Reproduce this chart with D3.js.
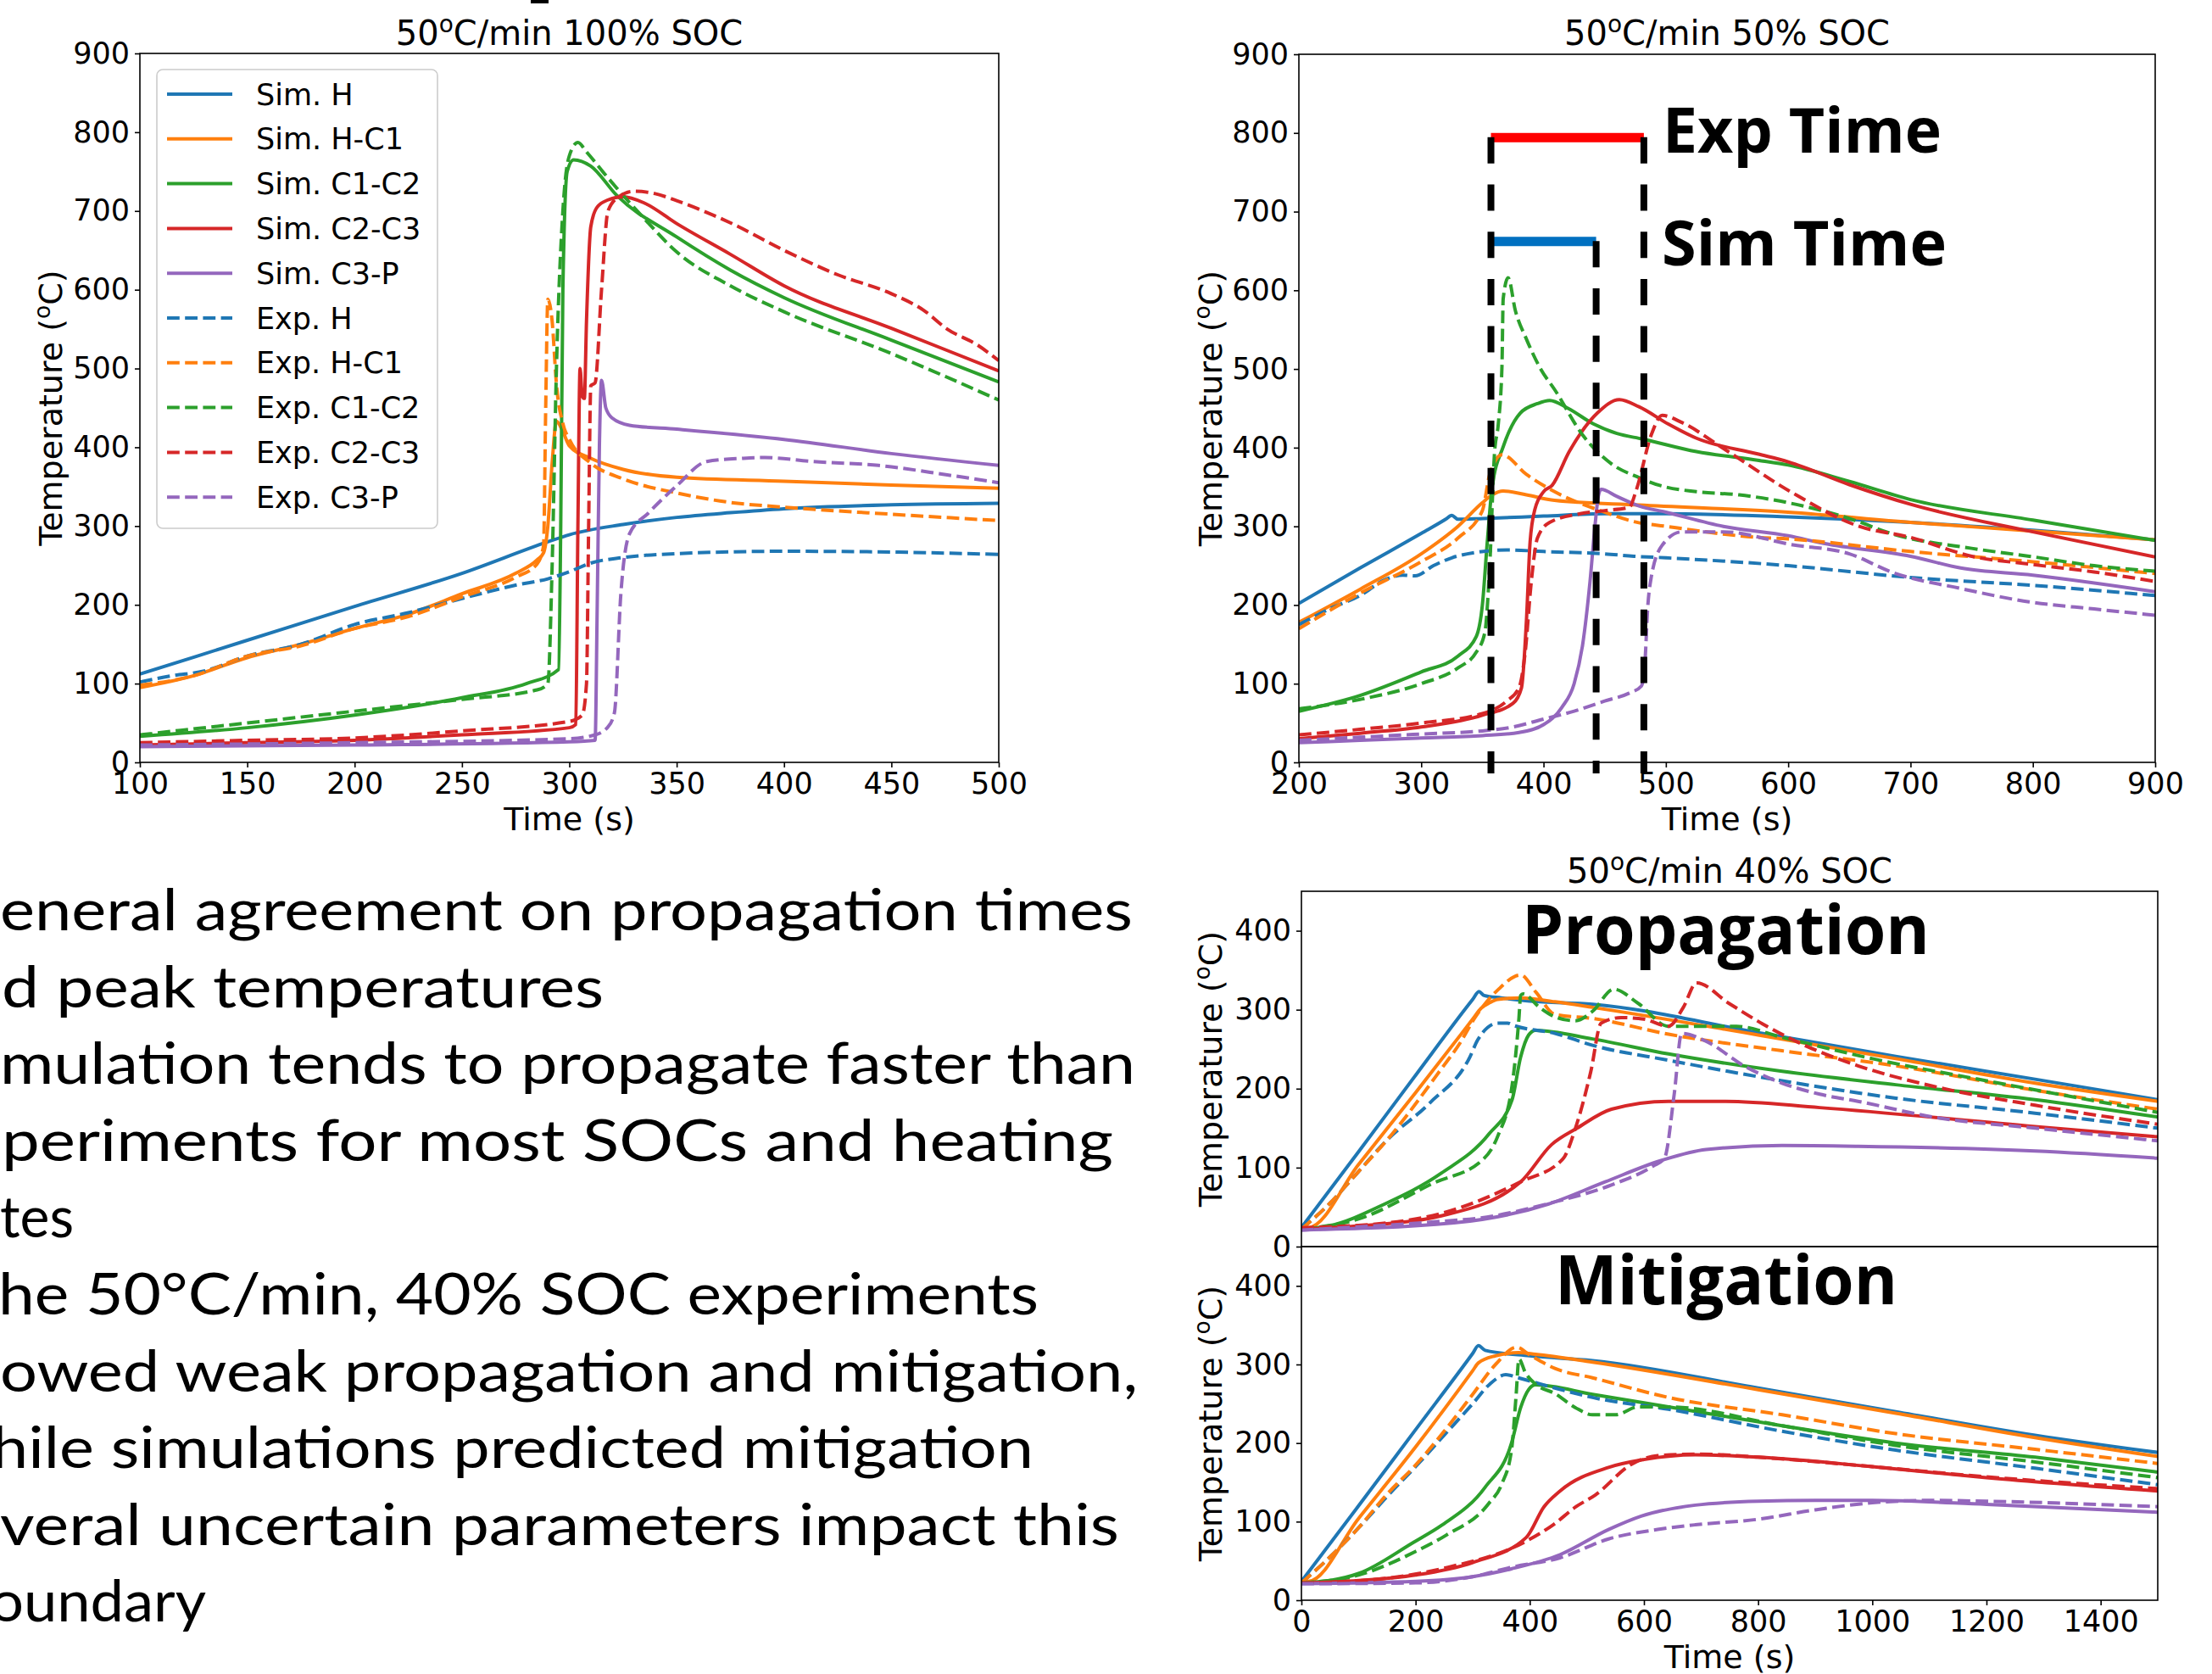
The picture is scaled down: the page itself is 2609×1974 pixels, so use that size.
<!DOCTYPE html>
<html>
<head>
<meta charset="utf-8">
<script src="https://cdn.jsdelivr.net/npm/d3@7"></script>
<style>
  body { margin: 0; background: #fff; }
  svg text { font-family: "DejaVu Sans", sans-serif; fill: #000; }
</style>
</head>
<body>
<svg id="fig" width="2609" height="1974"></svg>
<script>
// series meta
const seriesNames = ["Sim. H", "Sim. H-C1", "Sim. C1-C2", "Sim. C2-C3", "Sim. C3-P",
                     "Exp. H", "Exp. H-C1", "Exp. C1-C2", "Exp. C2-C3", "Exp. C3-P"];
const seriesColors = ["#1f77b4", "#ff7f0e", "#2ca02c", "#d62728", "#9467bd"];

// ---- 50C/min 100% SOC : [time s, temp C]
const a_simH    = [[100,112],[150,155],[200,198],[250,240],[290,280],[300,289],[325,302],[350,311],[375,317],[400,322],[450,327],[500,329]];
const a_simHC1  = [[100,95],[125,110],[150,133],[175,150],[200,170],[225,188],[250,214],[275,240],[285,257],[288,266],[290,300],[292,380],[294,433],[297,420],[300,402],[310,386],[325,372],[350,362],[400,357],[450,352],[500,348]];
const a_simC1C2 = [[100,33],[150,44],[200,60],[250,82],[280,100],[295,118],[296,300],[297,600],[299,750],[302,765],[310,757],[322,720],[350,667],[375,625],[400,590],[450,536],[500,483]];
const a_simC2C3 = [[100,22],[150,25],[200,28],[250,35],[300,44],[303,48],[304,300],[305,500],[306,465],[307,462],[308,560],[310,680],[313,705],[318,714],[325,718],[335,710],[350,684],[375,645],[400,605],[450,551],[500,497]];
const a_simC3P  = [[100,20],[200,22],[300,26],[312,28],[313,200],[314,400],[315,485],[317,450],[320,437],[328,428],[350,423],[400,410],[450,392],[500,377]];
const a_expH    = [[100,102],[115,110],[130,116],[150,135],[175,150],[200,175],[225,190],[250,208],[275,225],[290,233],[300,242],[310,253],[325,260],[350,265],[400,268],[450,267],[500,264]];
const a_expHC1  = [[100,98],[125,110],[150,135],[175,148],[200,170],[225,185],[250,210],[275,235],[285,252],[288,275],[289,450],[290,588],[292,560],[294,480],[297,430],[300,410],[310,380],[325,360],[350,342],[375,330],[400,324],[450,315],[500,307]];
const a_expC1C2 = [[100,35],[150,50],[200,65],[250,80],[285,92],[290,100],[292,250],[294,500],[297,700],[300,770],[304,787],[308,775],[318,742],[335,690],[350,648],[375,605],[400,572],[450,519],[500,460]];
const a_expC2C3 = [[100,25],[150,28],[200,31],[250,40],[300,52],[306,60],[308,100],[309,300],[310,478],[312,482],[315,600],[318,700],[323,718],[330,725],[340,722],[350,713],[375,685],[400,650],[425,619],[450,595],[465,574],[476,550],[490,530],[500,510]];
const a_expC3P  = [[100,22],[200,25],[300,30],[312,35],[318,45],[321,63],[324,214],[328,290],[337,317],[350,351],[364,382],[381,386],[391,387],[413,382],[444,377],[476,365],[500,355]];

// ---- 50C/min 50% SOC
const b_simH    = [[200,202],[250,247],[300,291],[320,309],[325,314],[330,309],[350,310],[400,313],[450,316],[500,316],[600,312],[700,305],[800,295],[900,283]];
const b_simHC1  = [[200,178],[250,220],[300,265],[330,300],[350,330],[358,340],[367,345],[386,340],[409,333],[478,327],[600,318],[700,305],[800,294],[900,283]];
const b_simC1C2 = [[200,65],[250,85],[300,115],[330,135],[345,160],[350,200],[354,280],[358,350],[367,401],[381,444],[395,456],[405,460],[420,450],[441,430],[460,418],[481,411],[525,395],[575,384],[600,378],[650,357],[700,334],[800,308],[900,282]];
const b_simC2C3 = [[200,30],[250,37],[300,45],[350,60],[375,75],[382,95],[386,180],[389,280],[393,322],[400,344],[407,352],[421,395],[444,444],[462,461],[478,452],[502,430],[525,412],[575,392],[600,382],[650,353],[700,328],[800,293],[900,261]];
const b_simC3P  = [[200,25],[250,28],[300,31],[350,34],[380,38],[400,48],[415,70],[425,100],[432,150],[438,230],[442,300],[445,340],[447,347],[460,338],[478,326],[500,318],[547,300],[600,288],[630,278],[700,262],[741,247],[800,238],[900,217]];
const b_expH    = [[200,175],[225,195],[250,212],[270,232],[285,238],[295,237],[310,250],[325,260],[345,267],[370,270],[400,268],[450,265],[474,262],[500,260],[600,250],[700,235],[800,225],[900,212]];
const b_expHC1  = [[200,170],[250,215],[300,255],[330,285],[350,320],[356,366],[366,391],[386,366],[409,344],[450,318],[474,306],[500,300],[575,286],[600,284],[700,268],[800,255],[900,240]];
const b_expC1C2 = [[200,68],[250,80],[300,100],[330,120],[345,140],[352,165],[356,250],[360,395],[363,430],[366,503],[367,589],[371,616],[377,574],[386,538],[398,499],[409,474],[432,416],[455,380],[478,362],[495,352],[525,344],[560,340],[600,330],[650,310],[686,290],[750,272],[797,262],[850,250],[900,243]];
const b_expC2C3 = [[200,35],[250,42],[300,50],[350,62],[370,78],[380,95],[385,140],[390,230],[395,285],[405,305],[430,316],[450,320],[470,324],[476,347],[488,416],[497,441],[513,432],[547,399],[602,344],[658,300],[700,286],[750,262],[797,252],[850,242],[900,230]];
const b_expC3P  = [[200,28],[250,32],[300,36],[350,40],[375,45],[400,55],[425,65],[450,78],[470,88],[480,97],[483,130],[485,193],[488,235],[497,276],[513,293],[547,293],[602,277],[650,265],[686,241],[741,221],[797,204],[850,195],[900,187]];

// propagation / sim time markers on the 50% SOC panel
const expTimeSpan = [357, 482];
const simTimeSpan = [357, 443];
const expTimeLevel = 800;
const simTimeLevel = 668;

// ---- 50C/min 40% SOC, propagation
const c_simH    = [[0,24],[100,120],[200,217],[300,313],[311,323],[320,318],[350,315],[400,311],[510,307],[800,271],[1041,241],[1285,212],[1500,186]];
const c_simHC1  = [[0,24],[12,24],[100,104],[200,195],[300,288],[315,302],[330,309],[344,313],[384,315],[444,310],[510,303],[800,268],[1041,238],[1285,207],[1500,184]];
const c_simC1C2 = [[0,22],[47,26],[146,54],[245,93],[329,143],[369,186],[384,240],[398,268],[410,274],[510,263],[643,244],[842,222],[1041,205],[1285,186],[1500,164]];
const c_simC2C3 = [[0,22],[96,26],[245,39],[384,82],[438,129],[483,150],[543,174],[643,184],[743,184],[908,176],[1285,152],[1500,139]];
const c_simC3P  = [[0,21],[267,30],[433,54],[532,82],[630,109],[709,123],[842,128],[975,127],[1285,121],[1500,112]];
const c_expH    = [[0,22],[50,55],[100,95],[150,135],[225,182],[295,240],[309,262],[344,283],[361,283],[372,280],[444,270],[510,255],[643,236],[842,210],[1041,188],[1285,169],[1500,150]];
const c_expHC1  = [[0,22],[50,55],[100,95],[150,135],[245,225],[278,258],[304,290],[344,325],[384,344],[411,322],[444,294],[510,289],[643,269],[842,248],[1041,229],[1285,198],[1500,174]];
const c_expC1C2 = [[0,22],[100,35],[230,80],[319,111],[344,140],[369,204],[381,289],[384,318],[388,320],[417,303],[444,291],[480,286],[510,298],[547,326],[590,308],[643,279],[708,279],[762,279],[842,265],[1000,238],[1200,210],[1500,170]];
const c_expC2C3 = [[0,24],[150,30],[245,42],[384,82],[458,111],[480,150],[507,222],[525,283],[560,290],[600,288],[643,279],[669,303],[692,334],[749,308],[808,282],[875,257],[975,229],[1107,203],[1285,179],[1500,155]];
const c_expC3P  = [[0,21],[245,32],[311,36],[446,57],[543,78],[616,102],[636,112],[653,193],[666,270],[709,260],[775,229],[842,207],[908,193],[975,184],[1107,164],[1285,150],[1500,134]];

// ---- 50C/min 40% SOC, mitigation
const d_simH    = [[0,24],[100,120],[200,217],[300,314],[310,324],[322,318],[400,311],[510,305],[800,270],[1041,240],[1285,210],[1500,188]];
const d_simHC1  = [[0,24],[12,24],[100,104],[200,195],[300,292],[310,302],[340,311],[380,315],[410,313],[510,303],[800,268],[1041,238],[1285,207],[1500,183]];
const d_simC1C2 = [[0,22],[50,25],[100,34],[197,74],[245,95],[322,144],[368,200],[384,245],[398,268],[410,274],[510,262],[643,246],[842,222],[1041,200],[1285,182],[1500,163]];
const d_simC2C3 = [[0,22],[100,25],[200,32],[300,48],[394,80],[425,119],[453,139],[538,169],[600,179],[690,185],[800,182],[1000,170],[1200,156],[1500,139]];
const d_simC3P  = [[0,21],[200,24],[300,30],[368,40],[453,58],[538,90],[595,107],[690,121],[800,126],[900,127],[1000,127],[1200,122],[1500,112]];
const d_expH    = [[0,22],[50,55],[100,92],[150,132],[200,170],[250,210],[300,250],[330,275],[358,287],[380,283],[444,270],[510,258],[643,243],[842,215],[1041,191],[1285,168],[1500,147]];
const d_expHC1  = [[0,22],[50,55],[100,92],[150,135],[200,172],[250,215],[300,262],[340,300],[377,322],[400,312],[444,295],[510,283],[643,258],[842,236],[1041,212],[1285,192],[1500,174]];
const d_expC1C2 = [[0,22],[100,32],[200,62],[254,83],[328,123],[351,148],[368,191],[376,260],[381,307],[392,290],[410,275],[444,263],[480,245],[510,236],[550,236],[590,246],[643,246],[842,222],[1041,197],[1285,176],[1500,156]];
const d_expC2C3 = [[0,22],[150,28],[245,40],[396,76],[441,96],[481,119],[515,134],[578,173],[624,184],[700,186],[800,182],[1000,170],[1200,157],[1500,142]];
const d_expC3P  = [[0,21],[200,22],[300,30],[368,42],[453,54],[538,78],[624,90],[690,96],[800,103],[900,115],[1000,124],[1100,127],[1200,126],[1500,119]];

// slide text (clipped at the left edge in the original)
const bulletLines = [
  "eneral agreement on propagation times",
  "d peak temperatures",
  "mulation tends to propagate faster than",
  "periments for most SOCs and heating",
  "tes",
  "he 50°C/min, 40% SOC experiments",
  "owed weak propagation and mitigation,",
  "hile simulations predicted mitigation",
  "veral uncertain parameters impact this",
  "oundary"
];

const svg = d3.select("#fig");
const TICK_FS = 35, LABEL_FS = 38, TITLE_FS = 40;

const panels = [
  { id: "a", box: { l: 165, r: 1178, t: 63, b: 899 }, xDom: [100, 500], yDom: [0, 900],
    xTicks: d3.range(100, 501, 50), yTicks: d3.range(0, 901, 100),
    title: ["50", "C/min 100% SOC"], titleY: 53, xLabelY: 979, yLabelX: 73,
    series: [a_simH, a_simHC1, a_simC1C2, a_simC2C3, a_simC3P, a_expH, a_expHC1, a_expC1C2, a_expC2C3, a_expC3P] },
  { id: "b", box: { l: 1532, r: 2542, t: 64, b: 899 }, xDom: [200, 900], yDom: [0, 900],
    xTicks: d3.range(200, 901, 100), yTicks: d3.range(0, 901, 100),
    title: ["50", "C/min 50% SOC"], titleY: 53, xLabelY: 979, yLabelX: 1441,
    series: [b_simH, b_simHC1, b_simC1C2, b_simC2C3, b_simC3P, b_expH, b_expHC1, b_expC1C2, b_expC2C3, b_expC3P] },
  { id: "c", box: { l: 1535, r: 2545, t: 1051, b: 1470 }, xDom: [0, 1500], yDom: [0, 450],
    xTicks: null, yTicks: d3.range(0, 401, 100),
    title: ["50", "C/min 40% SOC"], titleY: 1041, xLabelY: null, yLabelX: 1441,
    series: [c_simH, c_simHC1, c_simC1C2, c_simC2C3, c_simC3P, c_expH, c_expHC1, c_expC1C2, c_expC2C3, c_expC3P] },
  { id: "d", box: { l: 1535, r: 2545, t: 1470, b: 1887 }, xDom: [0, 1500], yDom: [0, 450],
    xTicks: d3.range(0, 1401, 200), yTicks: d3.range(0, 401, 100),
    title: null, xLabelY: 1967, yLabelX: 1441,
    series: [d_simH, d_simHC1, d_simC1C2, d_simC2C3, d_simC3P, d_expH, d_expHC1, d_expC1C2, d_expC2C3, d_expC3P] }
];

// text with a raised small "o" used as degree mark
function degText(sel, before, after, fs) {
  sel.append("tspan").text(before);
  sel.append("tspan").attr("font-size", fs * 0.7).attr("dy", -fs * 0.38).text("o");
  sel.append("tspan").attr("font-size", fs).attr("dy", fs * 0.38).text(after);
}

const scales = {};

panels.forEach(p => {
  const x = d3.scaleLinear().domain(p.xDom).range([p.box.l, p.box.r]);
  const y = d3.scaleLinear().domain(p.yDom).range([p.box.b, p.box.t]);
  scales[p.id] = { x, y };
  const g = svg.append("g").attr("class", "panel-" + p.id);

  g.append("clipPath").attr("id", "clip-" + p.id)
    .append("rect")
    .attr("x", p.box.l).attr("y", p.box.t)
    .attr("width", p.box.r - p.box.l).attr("height", p.box.b - p.box.t);

  const line = d3.line().x(d => x(d[0])).y(d => y(d[1])).curve(d3.curveMonotoneX);

  p.series.forEach((s, k) => {
    g.append("path")
      .attr("d", line(s))
      .attr("fill", "none")
      .attr("stroke", seriesColors[k % 5])
      .attr("stroke-width", 4)
      .attr("stroke-dasharray", k >= 5 ? "14.8,6.4" : null)
      .attr("clip-path", `url(#clip-${p.id})`);
  });

  // spines
  g.append("rect")
    .attr("x", p.box.l).attr("y", p.box.t)
    .attr("width", p.box.r - p.box.l).attr("height", p.box.b - p.box.t)
    .attr("fill", "none").attr("stroke", "#000").attr("stroke-width", 1.6);

  const yAxis = g.append("g")
    .attr("transform", `translate(${p.box.l},0)`)
    .call(d3.axisLeft(y).tickValues(p.yTicks).tickSize(6).tickPadding(6).tickFormat(d3.format("d")));
  yAxis.select(".domain").remove();
  yAxis.attr("font-size", TICK_FS).attr("font-family", "DejaVu Sans");
  yAxis.selectAll("line").attr("stroke", "#000").attr("stroke-width", 1.6);
  yAxis.selectAll("text").attr("fill", "#000");

  if (p.xTicks) {
    const xAxis = g.append("g")
      .attr("transform", `translate(0,${p.box.b})`)
      .call(d3.axisBottom(x).tickValues(p.xTicks).tickSize(6).tickPadding(6).tickFormat(d3.format("d")));
    xAxis.select(".domain").remove();
    xAxis.attr("font-size", TICK_FS).attr("font-family", "DejaVu Sans");
    xAxis.selectAll("line").attr("stroke", "#000").attr("stroke-width", 1.6);
    xAxis.selectAll("text").attr("fill", "#000");
  }

  const cx = (p.box.l + p.box.r) / 2;
  if (p.title) {
    const t = g.append("text").attr("x", cx).attr("y", p.titleY)
      .attr("text-anchor", "middle").attr("font-size", TITLE_FS);
    degText(t, p.title[0], p.title[1], TITLE_FS);
  }
  if (p.xLabelY) {
    g.append("text").attr("x", cx).attr("y", p.xLabelY)
      .attr("text-anchor", "middle").attr("font-size", LABEL_FS).text("Time (s)");
  }
  const yl = g.append("text")
    .attr("transform", `translate(${p.yLabelX},${(p.box.t + p.box.b) / 2}) rotate(-90)`)
    .attr("text-anchor", "middle").attr("font-size", LABEL_FS);
  degText(yl, "Temperature (", "C)", LABEL_FS);
});

// legend in the 100% SOC panel
const legend = svg.append("g").attr("class", "legend");
legend.append("rect")
  .attr("x", 185).attr("y", 82).attr("width", 331).attr("height", 541)
  .attr("rx", 7).attr("fill", "#fff").attr("fill-opacity", 0.8)
  .attr("stroke", "#cccccc").attr("stroke-width", 1.6);
seriesNames.forEach((name, k) => {
  const ly = 111 + k * 52.8;
  legend.append("line")
    .attr("x1", 197).attr("x2", 274).attr("y1", ly).attr("y2", ly)
    .attr("stroke", seriesColors[k % 5]).attr("stroke-width", 4)
    .attr("stroke-dasharray", k >= 5 ? "14.8,6.4" : null);
  legend.append("text").attr("x", 302).attr("y", ly + 12.6)
    .attr("font-size", TICK_FS).text(name);
});

// exp / sim time markers on the 50% SOC panel
{
  const { x, y } = scales.b;
  const ann = svg.append("g").attr("class", "annot");
  const barH = 11;
  ann.append("rect")
    .attr("x", x(expTimeSpan[0])).attr("y", y(expTimeLevel))
    .attr("width", x(expTimeSpan[1]) - x(expTimeSpan[0])).attr("height", barH)
    .attr("fill", "#ff0000");
  ann.append("rect")
    .attr("x", x(simTimeSpan[0])).attr("y", y(simTimeLevel))
    .attr("width", x(simTimeSpan[1]) - x(simTimeSpan[0])).attr("height", barH)
    .attr("fill", "#0070c0");
  const vlines = [[expTimeSpan[0], expTimeLevel], [simTimeSpan[1], simTimeLevel], [expTimeSpan[1], expTimeLevel]];
  vlines.forEach(([t, top]) => {
    ann.append("line")
      .attr("x1", x(t)).attr("x2", x(t))
      .attr("y1", y(top) + 5).attr("y2", y(-14))
      .attr("stroke", "#000").attr("stroke-width", 8)
      .attr("stroke-dasharray", "31,24.7");
  });
  ann.append("text").attr("x", 1961).attr("y", 180)
    .attr("font-weight", 700).attr("font-size", 74)
    .attr("textLength", 329).attr("lengthAdjust", "spacingAndGlyphs")
    .style("font-family", "'Open Sans'").text("Exp Time");
  ann.append("text").attr("x", 1960).attr("y", 313)
    .attr("font-weight", 700).attr("font-size", 74)
    .attr("textLength", 336).attr("lengthAdjust", "spacingAndGlyphs")
    .style("font-family", "'Open Sans'").text("Sim Time");
}

// big labels on the 40% SOC panels
svg.append("text").attr("x", 1795).attr("y", 1125)
  .attr("font-weight", 700).attr("font-size", 81)
  .attr("textLength", 481).attr("lengthAdjust", "spacingAndGlyphs")
  .style("font-family", "'Open Sans'").text("Propagation");
svg.append("text").attr("x", 1834).attr("y", 1538)
  .attr("font-weight", 700).attr("font-size", 81)
  .attr("textLength", 404).attr("lengthAdjust", "spacingAndGlyphs")
  .style("font-family", "'Open Sans'").text("Mitigation");

// bullet text block, cut at the page's left edge
const bulletX   = [0, 2, 0, 2, 0, -2, 0, -10, 0, -12];
const bulletEnd = [1336, 712, 1339, 1313, 87, 1225, 1342, 1219, 1320, 243];
bulletLines.forEach((s, i) => {
  svg.append("text")
    .attr("x", bulletX[i]).attr("y", 1097 + i * 90.6)
    .attr("font-size", 68)
    .attr("textLength", bulletEnd[i] - bulletX[i]).attr("lengthAdjust", "spacingAndGlyphs")
    .style("font-family", "Lato, 'Open Sans', sans-serif")
    .text(s);
});

// fragment of the slide heading cut off at the top
svg.append("rect").attr("x", 626).attr("y", 0).attr("width", 21).attr("height", 4).attr("fill", "#000");
</script>
</body>
</html>
